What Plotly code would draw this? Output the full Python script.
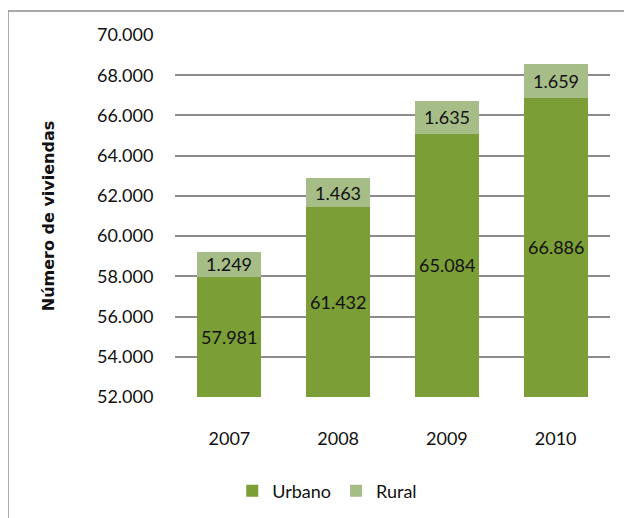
import plotly.graph_objects as go

years = ["2007", "2008", "2009", "2010"]
urbano = [57981, 61432, 65084, 66886]
rural = [1249, 1463, 1635, 1659]
y_ticks = [52000, 54000, 56000, 58000, 60000, 62000, 64000, 66000, 68000, 70000]
y_tick_labels = ["52.000", "54.000", "56.000", "58.000", "60.000",
                 "62.000", "64.000", "66.000", "68.000", "70.000"]

FONT = "Lato"
TXT = "#111111"


def fmt(v):
    return f"{v:,}".replace(",", ".")


fig = go.Figure()
fig.add_trace(go.Bar(name="Urbano", x=years, y=urbano,
                     marker=dict(color="#7C9E37", line=dict(width=0))))
fig.add_trace(go.Bar(name="Rural", x=years, y=rural,
                     marker=dict(color="#A6BD88", line=dict(width=0))))

y_min, y_max = y_ticks[0], y_ticks[-1]
ann = []
for i, (u, r) in enumerate(zip(urbano, rural)):
    ann.append(dict(x=i, y=(y_min + u) / 2, xref="x", yref="y", text=fmt(u),
                    showarrow=False, font=dict(family=FONT, size=18, color=TXT)))
    ann.append(dict(x=i, y=u + r / 2, xref="x", yref="y", text=fmt(r),
                    showarrow=False, font=dict(family=FONT, size=18, color=TXT)))

fig.update_layout(
    width=632, height=518,
    margin=dict(l=167, r=30, t=27, b=129),
    paper_bgcolor="white", plot_bgcolor="white",
    barmode="stack", bargap=0.41,
    font=dict(family=FONT, size=18, color=TXT),
    legend=dict(orientation="h", x=0.35, xanchor="center", y=-0.26, yanchor="middle",
                traceorder="normal",
                font=dict(family=FONT, size=18, color=TXT)),
    annotations=ann,
    shapes=[dict(type="rect", xref="paper", yref="paper",
                 x0=-0.384, x1=1.2, y0=-0.5, y1=1.066,
                 line=dict(color="#8C8C8C", width=1.5), layer="below")],
)
fig.update_xaxes(type="category", range=[-0.5, len(years) - 0.5], showgrid=False,
                 ticks="outside", ticklen=25, tickcolor="rgba(0,0,0,0)",
                 automargin=False,
                 tickfont=dict(family=FONT, size=18, color=TXT))
fig.update_yaxes(range=[y_min, y_max], tickvals=y_ticks, ticktext=y_tick_labels,
                 showgrid=True, gridcolor="#8C8C8C", gridwidth=1.5, zeroline=False,
                 ticks="outside", ticklen=17, tickcolor="rgba(0,0,0,0)",
                 automargin=False,
                 tickfont=dict(family=FONT, size=18, color=TXT),
                 title=dict(text="<b>Número de viviendas</b>", standoff=38,
                            font=dict(family="DejaVu Sans", size=16, color=TXT)))
fig.write_html("out.html")
